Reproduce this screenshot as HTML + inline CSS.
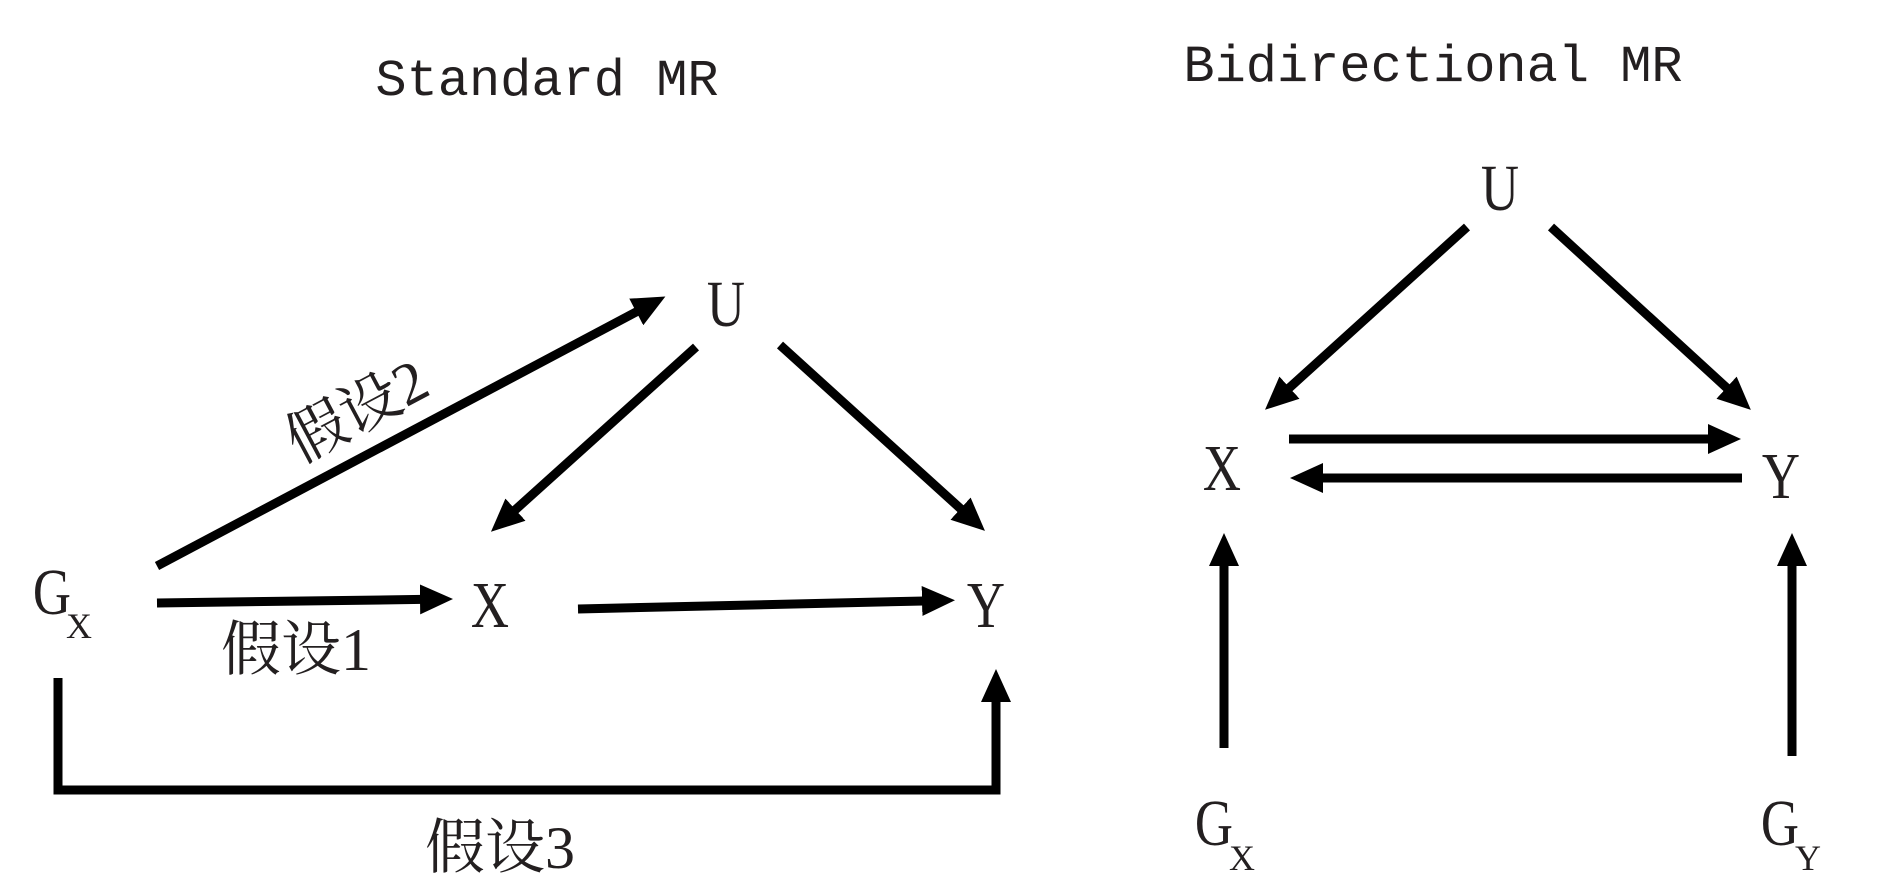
<!DOCTYPE html>
<html><head><meta charset="utf-8"><style>
html,body{margin:0;padding:0;background:#fff;}
svg{display:block}
.t{font-family:"Liberation Mono",monospace;font-size:52px;fill:#231f20}
.s{font-family:"Liberation Serif",serif;font-size:66px;fill:#231f20}
.sub{font-family:"Liberation Serif",serif;font-size:36px;fill:#231f20}
.c{font-family:"Liberation Serif","Noto Serif CJK SC",serif;font-size:60px;fill:#231f20}
</style></head><body>
<svg width="1890" height="894" viewBox="0 0 1890 894" xmlns="http://www.w3.org/2000/svg">
<defs>
<marker id="a" markerUnits="userSpaceOnUse" markerWidth="36" markerHeight="32" refX="2" refY="16" orient="auto">
<path d="M0,1 L33,16 L0,31 Z" fill="#000"/>
</marker>
</defs>
<text class="t" x="547" y="95" text-anchor="middle">Standard MR</text>
<text class="t" x="1433" y="81" text-anchor="middle">Bidirectional MR</text>

<g stroke="#000" stroke-width="9" fill="none" marker-end="url(#a)">
<line x1="157" y1="566" x2="638" y2="311"/>
<line x1="696" y1="347" x2="514" y2="511"/>
<line x1="780" y1="345" x2="962" y2="510"/>
<line x1="157" y1="603" x2="422" y2="599.4"/>
<line x1="578" y1="609" x2="924" y2="601"/>
<polyline points="58,678 58,790 996,790 996,700"/>
<line x1="1467" y1="227" x2="1288" y2="389"/>
<line x1="1551" y1="227" x2="1728" y2="389"/>
<line x1="1289" y1="439" x2="1710" y2="439"/>
<line x1="1742" y1="478" x2="1321" y2="478"/>
<line x1="1224" y1="748" x2="1224" y2="564"/>
<line x1="1792" y1="756" x2="1792" y2="564"/>
</g>

<g class="s">
<text class="s" x="726" y="326" text-anchor="middle" transform="translate(726 0) scale(.8 1) translate(-726 0)">U</text>
<text class="s" x="52" y="614" text-anchor="middle" transform="translate(52 0) scale(.8 1) translate(-52 0)">G</text>
<text class="sub" x="79" y="638" text-anchor="middle">X</text>
<text class="s" x="490" y="627" text-anchor="middle" transform="translate(490 0) scale(.8 1) translate(-490 0)">X</text>
<text class="s" x="986" y="627" text-anchor="middle" transform="translate(986 0) scale(.8 1) translate(-986 0)">Y</text>
<text class="s" x="1500" y="210" text-anchor="middle" transform="translate(1500 0) scale(.8 1) translate(-1500 0)">U</text>
<text class="s" x="1222" y="490" text-anchor="middle" transform="translate(1222 0) scale(.8 1) translate(-1222 0)">X</text>
<text class="s" x="1781" y="498" text-anchor="middle" transform="translate(1781 0) scale(.8 1) translate(-1781 0)">Y</text>
<text class="s" x="1214" y="845" text-anchor="middle" transform="translate(1214 0) scale(.8 1) translate(-1214 0)">G</text>
<text class="sub" x="1242" y="870" text-anchor="middle">X</text>
<text class="s" x="1780" y="845" text-anchor="middle" transform="translate(1780 0) scale(.8 1) translate(-1780 0)">G</text>
<text class="sub" x="1808" y="870" text-anchor="middle">Y</text>
</g>
<text class="c" x="296" y="670" text-anchor="middle">假设1</text>
<text class="c" x="500" y="868" text-anchor="middle">假设3</text>
<text class="c" x="0" y="20" text-anchor="middle" transform="translate(357 411) rotate(-28)">假设2</text>
</svg>
</body></html>
